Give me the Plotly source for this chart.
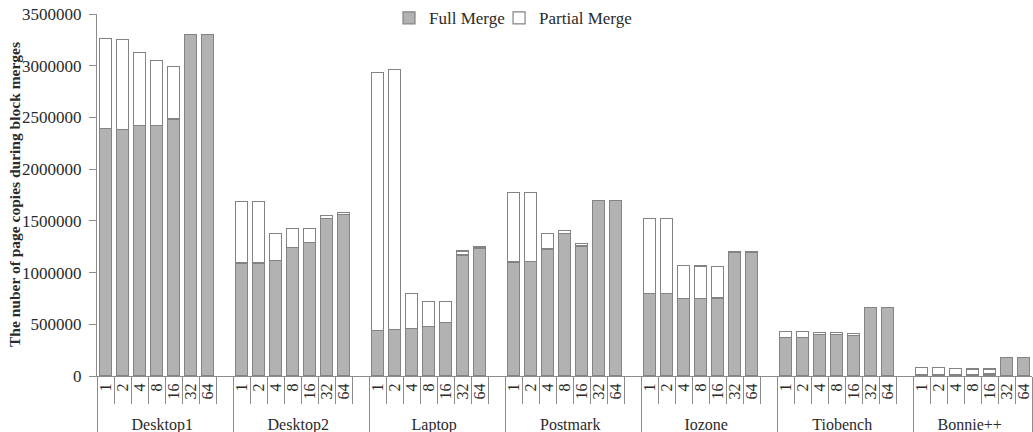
import plotly.graph_objects as go

# Benchmarks and block-merge unit sizes
groups = ["Desktop1", "Desktop2", "Laptop", "Postmark", "Iozone", "Tiobench", "Bonnie++"]
sizes = ["1", "2", "4", "8", "16", "32", "64"]

# Page copies caused by full merges
full_merge = {
    "Desktop1": [2390000, 2380000, 2420000, 2420000, 2485000, 3300000, 3300000],
    "Desktop2": [1092000, 1092000, 1117000, 1246000, 1288000, 1519000, 1558000],
    "Laptop":   [440000, 450000, 456000, 482000, 520000, 1170000, 1237000],
    "Postmark": [1102000, 1108000, 1227000, 1375000, 1256000, 1696000, 1696000],
    "Iozone":   [794000, 794000, 749000, 749000, 755000, 1198000, 1198000],
    "Tiobench": [370000, 370000, 402000, 405000, 389000, 659000, 659000],
    "Bonnie++": [17000, 17000, 15000, 12000, 20000, 180000, 180000],
}

# Page copies caused by partial merges
partial_merge = {
    "Desktop1": [875000, 870000, 705000, 630000, 505000, 0, 0],
    "Desktop2": [598000, 598000, 261000, 184000, 142000, 32000, 22000],
    "Laptop":   [2498000, 2511000, 338000, 235000, 202000, 38000, 15000],
    "Postmark": [671000, 665000, 151000, 35000, 25000, 0, 0],
    "Iozone":   [732000, 732000, 317000, 314000, 305000, 0, 0],
    "Tiobench": [61000, 61000, 22000, 19000, 19000, 0, 0],
    "Bonnie++": [63000, 63000, 59000, 56000, 48000, 0, 0],
}

y_ticks = [0, 500000, 1000000, 1500000, 2000000, 2500000, 3000000, 3500000]
y_title = "The nuber of page copies during block merges"

# Two-level category axis; a blank slot separates consecutive benchmarks
outer, inner, full_vals, part_vals = [], [], [], []
for i, g in enumerate(groups):
    for j, s in enumerate(sizes):
        outer.append(g)
        inner.append(s)
        full_vals.append(full_merge[g][j])
        part_vals.append(partial_merge[g][j])
    if i < len(groups) - 1:
        outer.append(g)
        inner.append(" ")
        full_vals.append(None)
        part_vals.append(None)

serif = "Liberation Serif"
line_gray = "#8c8c8c"
bar_edge = "#838383"

fig = go.Figure()
fig.add_trace(go.Bar(
    x=[outer, inner], y=full_vals, name="Full Merge", legend="legend",
    marker=dict(color="#b2b2b2", line=dict(color=bar_edge, width=1.2)),
))
fig.add_trace(go.Bar(
    x=[outer, inner], y=part_vals, name="Partial Merge", legend="legend2",
    marker=dict(color="#ffffff", line=dict(color=bar_edge, width=1.2)),
))

legend_style = dict(orientation="h", y=1.035, yanchor="top", xanchor="left",
                    font=dict(size=17), bgcolor="rgba(0,0,0,0)", itemwidth=30)

fig.update_layout(
    width=1033, height=432,
    barmode="stack", bargap=0.32,
    margin=dict(l=97, r=1, t=13, b=56),
    paper_bgcolor="white", plot_bgcolor="white",
    font=dict(family=serif, size=16, color="#2a2a2a"),
    showlegend=True,
    legend=dict(x=0.3123, **legend_style),
    legend2=dict(x=0.43, **legend_style),
    annotations=[dict(
        text="<b>" + y_title + "</b>", textangle=-90,
        xref="paper", yref="paper", x=(14 - 97) / 935, y=0.5,
        xanchor="center", yanchor="middle", showarrow=False,
        font=dict(size=15.5, color="#2a2a2a"),
    )],
)

fig.update_xaxes(
    type="multicategory",
    showline=True, linecolor=line_gray, linewidth=1,
    ticks="outside", tickson="boundaries", ticklen=27, tickcolor=line_gray,
    tickmode="linear", tick0=0, dtick=1,
    tickangle=-90, tickfont=dict(size=16),
    showdividers=True, dividercolor=line_gray, dividerwidth=1,
    showgrid=False, automargin=False,
    range=[-0.5, len(outer) - 0.5],
)
fig.update_yaxes(
    range=[0, 3500000], tickvals=y_ticks, ticktext=[str(v) for v in y_ticks],
    showline=True, linecolor=line_gray, linewidth=1,
    ticks="outside", ticklen=7, tickcolor=line_gray, ticklabelstandoff=4,
    showgrid=False, zeroline=False, automargin=False,
    tickfont=dict(size=17),
)

fig.write_html("out.html")
